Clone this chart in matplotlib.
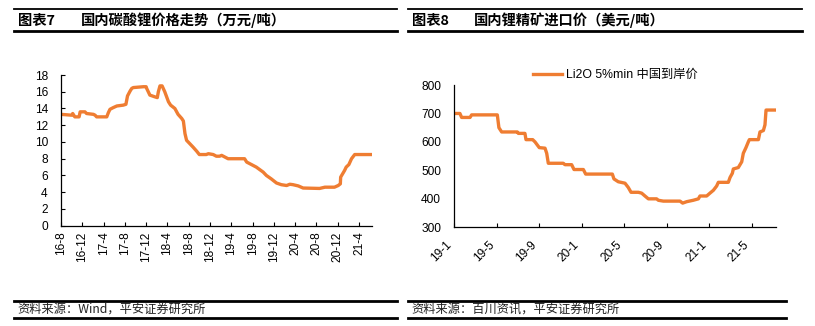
import matplotlib
matplotlib.use("Agg")
import matplotlib.pyplot as plt
from matplotlib.lines import Line2D

plt.rcParams['font.family'] = ['Liberation Sans', 'Noto Sans CJK SC', 'DejaVu Sans']

# ---------------- data ----------------
# Left: lithium carbonate price (10k CNY/t), x = months since 2016-08
li2co3_month = [0, 2.0, 2.2, 2.6, 3.4, 3.6, 4.5, 4.8, 6.1, 6.4, 6.7, 8.6, 8.9, 9.2, 9.8, 10.5,
                11.7, 12.2, 12.5, 13.0, 13.3, 13.6, 15.5, 16.0, 16.1, 16.7, 17.6, 18.1, 18.3,
                18.6, 19.0, 19.5, 20.2, 20.6, 21.4, 22.0, 22.7, 23.0, 23.3, 23.6, 24.2, 24.8,
                25.5, 26.0, 27.3, 27.7, 28.6, 29.2, 29.8, 30.2, 30.8, 31.4, 34.5, 34.9, 35.8,
                36.7, 38.0, 38.6, 39.5, 40.5, 41.4, 42.4, 43.0, 43.6, 44.6, 45.5, 48.6, 49.6,
                51.4, 52.1, 52.5, 52.56, 53.3, 53.6, 54.1, 54.6, 55.2, 58.4]
li2co3_price = [13.3, 13.2, 13.4, 13.0, 13.0, 13.6, 13.6, 13.4, 13.3, 13.2, 13.0, 13.0, 13.5,
                13.9, 14.1, 14.3, 14.4, 14.5, 15.5, 16.1, 16.4, 16.5, 16.6, 16.6, 16.4, 15.6,
                15.4, 15.3, 16.0, 16.7, 16.7, 16.0, 14.8, 14.4, 14.0, 13.3, 12.8, 12.5, 11.0,
                10.2, 9.8, 9.4, 8.9, 8.5, 8.5, 8.6, 8.5, 8.3, 8.3, 8.4, 8.2, 8.0, 8.0, 7.6,
                7.3, 7.0, 6.4, 6.0, 5.6, 5.1, 4.9, 4.8, 4.95, 4.9, 4.75, 4.5, 4.45, 4.6, 4.6,
                4.8, 5.0, 5.8, 6.6, 7.0, 7.3, 8.0, 8.5, 8.5]
left_ticks = ['16-8', '16-12', '17-4', '17-8', '17-12', '18-4', '18-8', '18-12',
              '19-4', '19-8', '19-12', '20-4', '20-8', '20-12', '21-4']

# Right: spodumene concentrate import price (USD/t), x = months since 2019-01
spod_month = [0, 0.53, 0.69, 1.48, 1.63, 4.05, 4.2, 4.46, 5.93, 6.03, 6.65, 6.75, 7.38, 7.6,
              7.8, 8.0, 8.54, 8.7, 8.85, 10.26, 10.42, 11.05, 11.27, 12.15, 12.37, 14.88,
              15.03, 15.44, 16.07, 16.38, 16.64, 17.33, 17.64, 17.95, 18.27, 19.05, 19.21,
              19.68, 21.25, 21.5, 21.88, 22.5, 22.98, 23.13, 23.76, 24.07, 24.39, 24.7,
              24.86, 25.8, 25.96, 26.18, 26.27, 26.74, 27.06, 27.21, 27.46, 27.68, 27.78,
              28.63, 28.78, 29.1, 29.25, 29.35, 30.26]
spod_price = [700, 700, 686, 686, 695, 695, 650, 635, 635, 630, 630, 608, 608, 600, 590,
              580, 578, 560, 525, 525, 520, 520, 503, 503, 487, 487, 470, 460, 455, 440,
              423, 423, 420, 410, 400, 400, 395, 392, 392, 385, 390, 395, 400, 410, 410,
              420, 430, 445, 458, 458, 475, 490, 505, 510, 530, 560, 580, 600, 608, 608,
              635, 640, 660, 712, 712]
right_ticks = ['19-1', '19-5', '19-9', '20-1', '20-5', '20-9', '21-1', '21-5']

LINE_C = '#EF7D32'
CJK = ['Noto Sans CJK SC', 'DejaVu Sans']

fig = plt.figure(figsize=(8.15, 3.26), dpi=100)
W, H = 815.0, 326.0

def fx(px):
    return px / W

def fy(py):
    return 1 - py / H

# ---------- header / footer decorations ----------
def hline(x0, x1, y, lw):
    fig.add_artist(Line2D([fx(x0), fx(x1)], [fy(y), fy(y)], color='black', lw=lw,
                          transform=fig.transFigure))

for (x0, x1) in [(14, 397), (408, 802)]:
    hline(x0, x1, 8.5, 1.3)
    hline(x0, x1, 30.5, 2.0)
for (x0, x1) in [(14, 397), (408, 786)]:
    hline(x0, x1, 300.5, 2.0)
    hline(x0, x1, 318, 2.0)

TFS = 10.3
fig.text(fx(18), fy(20.5), '图表7', fontsize=TFS, fontweight='bold', family=CJK, va='center')
fig.text(fx(81), fy(20.5), '国内碳酸锂价格走势（万元/吨）', fontsize=TFS, fontweight='bold',
         family=CJK, va='center')
fig.text(fx(412), fy(20.5), '图表8', fontsize=TFS, fontweight='bold', family=CJK, va='center')
fig.text(fx(474), fy(20.5), '国内锂精矿进口价（美元/吨）', fontsize=TFS, fontweight='bold',
         family=CJK, va='center')

SFS = 8.8
fig.text(fx(17), fy(309.5), '资料来源：Wind，平安证券研究所', fontsize=SFS, family=CJK,
         va='center', color='#222222')
fig.text(fx(411), fy(309.5), '资料来源：百川资讯，平安证券研究所', fontsize=SFS, family=CJK,
         va='center', color='#222222')

# ---------- left chart ----------
axL = fig.add_axes([fx(61), fy(225.7), fx(372) - fx(61), fy(75) - fy(225.7)])
axL.plot(li2co3_month, li2co3_price, color=LINE_C, lw=2.4, solid_joinstyle='round')
axL.set_xlim(0, 58.45)
axL.set_ylim(0, 18)
axL.set_yticks(range(0, 19, 2))
axL.set_xticks([4 * i for i in range(len(left_ticks))])
axL.set_xticklabels(left_ticks, rotation=90)

# ---------- right chart ----------
axR = fig.add_axes([fx(454.3), fy(227.3), fx(775.7) - fx(454.3), fy(85) - fy(227.3)])
axR.plot(spod_month, spod_price, color=LINE_C, lw=2.4, solid_joinstyle='round',
         label='Li2O 5%min 中国到岸价')
axR.set_xlim(0, 30.26)
axR.set_ylim(300, 800)
axR.set_yticks(range(300, 801, 100))
axR.set_xticks([4 * i for i in range(len(right_ticks))])
axR.set_xticklabels(right_ticks, rotation=45, ha='right', rotation_mode='default')

for ax in (axL, axR):
    for s in ('top', 'right'):
        ax.spines[s].set_visible(False)
    for s in ('left', 'bottom'):
        ax.spines[s].set_linewidth(0.9)
        ax.spines[s].set_color('black')
    ax.tick_params(axis='both', direction='in', length=3, width=0.8, labelsize=8.6,
                   colors='black')
    ax.set_facecolor('none')

axL.tick_params(axis='x', pad=4)
axL.tick_params(axis='y', pad=9.5)
axR.tick_params(axis='x', pad=8)
axR.tick_params(axis='y', length=0, pad=9.5)

leg = axR.legend(loc='center', bbox_to_anchor=(0.5, 1.07), frameon=False,
                 fontsize=8.8, handlelength=2.4, handletextpad=0.3, borderaxespad=0)
for t in leg.get_texts():
    t.set_fontfamily(['Liberation Sans', 'Noto Sans CJK SC'])

fig.savefig('out.png', dpi=100)
